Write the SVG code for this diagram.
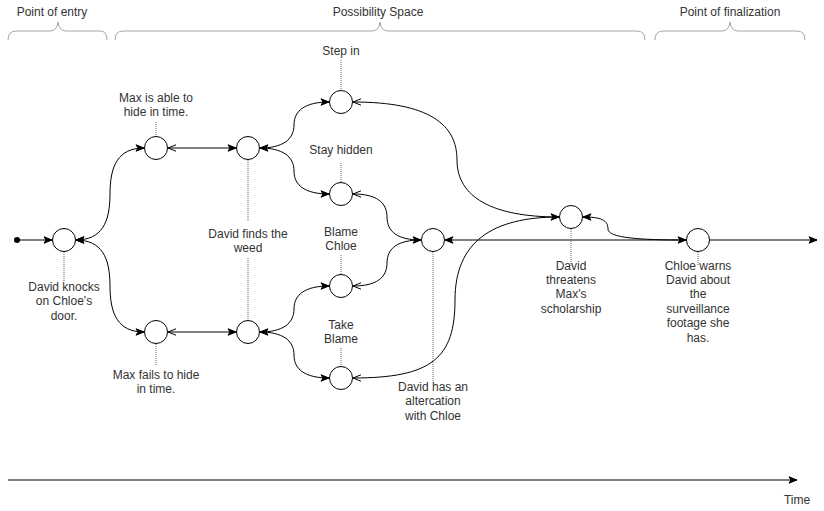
<svg xmlns="http://www.w3.org/2000/svg" width="824" height="511" viewBox="0 0 824 511">
<style>
text{font-family:"Liberation Sans",Arial,sans-serif;font-size:12px;fill:#333;text-anchor:middle}
.n{fill:#fff;stroke:#000;stroke-width:1}
.e{fill:none;stroke:#000;stroke-width:1}
.d{fill:none;stroke:#666;stroke-width:1;stroke-dasharray:1 1}
.b{fill:none;stroke:#a6a6a6;stroke-width:1}
</style>
<defs>
<marker id="af" viewBox="0 0 10 8" refX="9" refY="4" markerWidth="10" markerHeight="8" markerUnits="userSpaceOnUse" orient="auto-start-reverse"><path d="M1,0.8 L9,4 L1,7.2 L3,4 Z" fill="#000" stroke="#000" stroke-width="1"/></marker>
<marker id="ao" viewBox="0 0 10 8" refX="9" refY="4" markerWidth="10" markerHeight="8" markerUnits="userSpaceOnUse" orient="auto-start-reverse"><path d="M1,0.8 L9,4 L1,7.2" fill="none" stroke="#000" stroke-width="1"/></marker>
</defs>
<rect width="824" height="511" fill="#fff"/>

<g id="phases">
<text x="52" y="16">Point of entry</text>
<path class="b" d="M8,40 Q8,31 16,31 L50,31 Q57,31 58,22 Q59,31 66,31 L100,31 Q107,31 107,40"/>
<text x="378" y="16">Possibility Space</text>
<path class="b" d="M115,40 Q115,31 123,31 L372,31 Q379,31 380,22 Q381,31 388,31 L637,31 Q645,31 645,40"/>
<text x="730" y="16">Point of finalization</text>
<path class="b" d="M655,40 Q655,31 663,31 L722,31 Q729,31 730,22 Q731,31 738,31 L797,31 Q805,31 805,40"/>
</g>

<g id="connectors">
<circle cx="17" cy="240" r="3" fill="#000"/>
<path class="e" d="M17,240 L52,240" marker-end="url(#af)"/>
<path class="e" d="M76,240 C102,240 110,222 110,194 C110,166 118,148 144,148" marker-start="url(#af)" marker-end="url(#af)"/>
<path class="e" d="M76,240 C102,240 110,258 110,286 C110,314 118,332 144,332" marker-start="url(#af)" marker-end="url(#af)"/>
<path class="e" d="M168,148 L236,148" marker-start="url(#ao)" marker-end="url(#af)"/>
<path class="e" d="M168,332 L236,332" marker-start="url(#ao)" marker-end="url(#af)"/>
<path class="e" d="M260,148 C282,148 294,140 294,125 C294,110 306,102 329,102" marker-start="url(#af)" marker-end="url(#af)"/>
<path class="e" d="M260,148 C282,148 294,156 294,171 C294,186 306,194 329,194" marker-end="url(#af)"/>
<path class="e" d="M260,332 C282,332 294,324 294,309 C294,294 306,286 329,286" marker-start="url(#af)" marker-end="url(#af)"/>
<path class="e" d="M260,332 C282,332 294,340 294,355 C294,370 306,378 329,378" marker-end="url(#af)"/>
<path class="e" d="M353,194 C376,194 387,202 387,217 C387,232 398,240 421,240" marker-start="url(#ao)" marker-end="url(#af)"/>
<path class="e" d="M353,286 C376,286 387,278 387,263 C387,248 398,240 421,240" marker-start="url(#ao)"/>
<path class="e" d="M353,102 C430,102 457,125 457,160 C457,197 492,217 559,217" marker-start="url(#ao)" marker-end="url(#af)"/>
<path class="e" d="M353,378 C432,378 455,358 455,300 C455,242 492,217 559,217" marker-start="url(#ao)"/>
<path class="e" d="M445,240 L686,240" marker-start="url(#af)" marker-end="url(#af)"/>
<path class="e" d="M686,240 C640,240 608,238 608,229 C608,220 601,217 583,217" marker-end="url(#af)"/>
<path class="e" d="M710,240 L817,240" marker-end="url(#af)"/>
<path class="e" d="M8,480 L797,480" marker-end="url(#af)"/>

<path class="d" d="M64,252 V282"/>
<path class="d" d="M156,122 V136"/>
<path class="d" d="M156,344 V366"/>
<path class="d" d="M248,160 V221"/>
<path class="d" d="M248,258 V320"/>
<path class="d" d="M341,60 V90"/>
<path class="d" d="M341,163 V182"/>
<path class="d" d="M341,255 V274"/>
<path class="d" d="M341,348 V366"/>
<path class="d" d="M433,252 V382"/>
<path class="d" d="M571,229 V266"/>
<path class="d" d="M698,252 V266"/>
</g>

<g id="n-knock"><circle class="n" cx="64" cy="240" r="11.5"/><text x="64" y="291">David knocks</text><text x="64" y="305.4">on Chloe's</text><text x="64" y="319.8">door.</text></g>
<g id="n-maxable"><circle class="n" cx="156" cy="148" r="11.5"/><text x="156" y="102">Max is able to</text><text x="156" y="116.4">hide in time.</text></g>
<g id="n-maxfails"><circle class="n" cx="156" cy="332" r="11.5"/><text x="156" y="378.5">Max fails to hide</text><text x="156" y="392.9">in time.</text></g>
<g id="n-weed1"><circle class="n" cx="248" cy="148" r="11.5"/></g>
<g id="n-weed2"><circle class="n" cx="248" cy="332" r="11.5"/><text x="248" y="238">David finds the</text><text x="248" y="252.4">weed</text></g>
<g id="n-stepin"><circle class="n" cx="341" cy="102" r="11.5"/><text x="341" y="55">Step in</text></g>
<g id="n-stay"><circle class="n" cx="341" cy="194" r="11.5"/><text x="341" y="154">Stay hidden</text></g>
<g id="n-blamechloe"><circle class="n" cx="341" cy="286" r="11.5"/><text x="341" y="236">Blame</text><text x="341" y="250.4">Chloe</text></g>
<g id="n-takeblame"><circle class="n" cx="341" cy="378" r="11.5"/><text x="341" y="329">Take</text><text x="341" y="343.4">Blame</text></g>
<g id="n-alter"><circle class="n" cx="433" cy="240" r="11.5"/><text x="433" y="391">David has an</text><text x="433" y="405.4">altercation</text><text x="433" y="419.8">with Chloe</text></g>
<g id="n-threat"><circle class="n" cx="571" cy="217" r="11.5"/><text x="571" y="269.5">David</text><text x="571" y="283.9">threatens</text><text x="571" y="298.3">Max's</text><text x="571" y="312.7">scholarship</text></g>
<g id="n-warn"><circle class="n" cx="698" cy="240" r="11.5"/><text x="698" y="269.5">Chloe warns</text><text x="698" y="283.9">David about</text><text x="698" y="298.3">the</text><text x="698" y="312.7">surveillance</text><text x="698" y="327.1">footage she</text><text x="698" y="341.5">has.</text></g>
<g id="time"><text x="797" y="504">Time</text></g>
</svg>
